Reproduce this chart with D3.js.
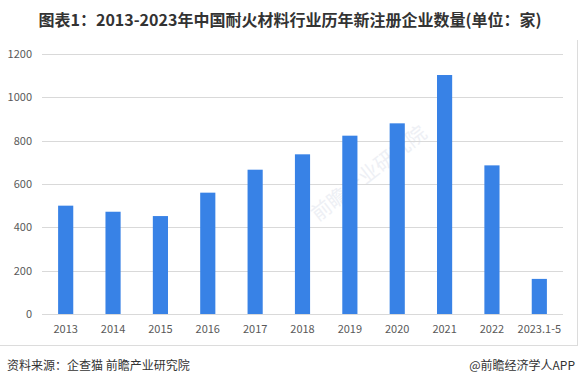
<!DOCTYPE html>
<html>
<head>
<meta charset="utf-8">
<script src="https://cdn.jsdelivr.net/npm/d3@7"></script>
<style>
  body { margin: 0; background: #fff; }
  svg { display: block; font-family: "Microsoft YaHei", "Noto Sans CJK SC", sans-serif; }
</style>
</head>
<body>
<script>
const years = ["2013", "2014", "2015", "2016", "2017", "2018", "2019", "2020", "2021", "2022", "2023.1-5"];
const counts = [500, 472, 452, 560, 666, 737, 823, 880, 1103, 686, 162];
const yTicks = [0, 200, 400, 600, 800, 1000, 1200];

const width = 578;
const height = 386;
const margin = { top: 54, right: 15, bottom: 72, left: 42 };

const svg = d3.select("body")
  .append("svg")
  .attr("width", width)
  .attr("height", height);

// faint frame round the chart area
svg.append("line")
  .attr("x1", 577.5).attr("x2", 577.5)
  .attr("y1", 40).attr("y2", 345)
  .attr("stroke", "#dcdcdc");
svg.append("line")
  .attr("x1", 0).attr("x2", 578)
  .attr("y1", 345.5).attr("y2", 345.5)
  .attr("stroke", "#dcdcdc");

// title
svg.append("text")
  .attr("x", 290)
  .attr("y", 26)
  .attr("text-anchor", "middle")
  .attr("font-size", 16)
  .attr("font-weight", "bold")
  .attr("fill", "#333")
  .text("图表1：2013-2023年中国耐火材料行业历年新注册企业数量(单位：家)");

const x = d3.scaleBand()
  .domain(years)
  .range([margin.left, width - margin.right])
  .paddingInner(0.68)
  .paddingOuter(0.34);

const y = d3.scaleLinear()
  .domain([0, 1200])
  .range([height - margin.bottom, margin.top]);

// watermark, faint, inside the plot
svg.append("text")
  .attr("transform", "translate(318,222) rotate(-38)")
  .attr("font-size", 20)
  .attr("fill", "#eef0f5")
  .text("前瞻产业研究院");

// gridlines
svg.append("g")
  .selectAll("line")
  .data(yTicks)
  .join("line")
  .attr("x1", margin.left)
  .attr("x2", width - margin.right)
  .attr("y1", d => Math.round(y(d)) + 0.5)
  .attr("y2", d => Math.round(y(d)) + 0.5)
  .attr("stroke", "#d9d9d9");

// y labels
svg.append("g")
  .selectAll("text")
  .data(yTicks)
  .join("text")
  .attr("x", margin.left - 10)
  .attr("y", d => y(d) + 4)
  .attr("text-anchor", "end")
  .attr("font-size", 11)
  .attr("fill", "#595959")
  .text(d => d);

// bars
svg.append("g")
  .selectAll("rect")
  .data(years)
  .join("rect")
  .attr("x", d => x(d))
  .attr("width", x.bandwidth())
  .attr("y", (d, i) => y(counts[i]))
  .attr("height", (d, i) => y(0) - y(counts[i]))
  .attr("fill", "#3882e6");

// x labels
svg.append("g")
  .selectAll("text")
  .data(years)
  .join("text")
  .attr("x", d => x(d) + x.bandwidth() / 2)
  .attr("y", y(0) + 19)
  .attr("text-anchor", "middle")
  .attr("font-size", 11)
  .attr("fill", "#595959")
  .text(d => d);

// footer
svg.append("text")
  .attr("x", 7)
  .attr("y", 370)
  .attr("font-size", 12)
  .attr("fill", "#333")
  .text("资料来源：企查猫 前瞻产业研究院");

svg.append("text")
  .attr("x", 575)
  .attr("y", 370)
  .attr("text-anchor", "end")
  .attr("font-size", 12)
  .attr("fill", "#333")
  .text("@前瞻经济学人APP");
</script>
</body>
</html>
